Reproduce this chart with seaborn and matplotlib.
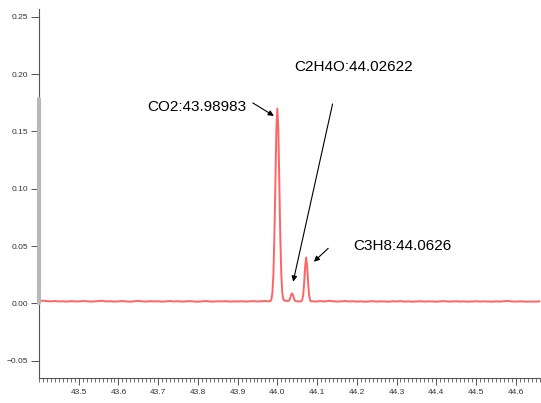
import numpy as np
import pandas as pd
import matplotlib
matplotlib.use("Agg")
import matplotlib.pyplot as plt
from matplotlib.ticker import MultipleLocator
import seaborn as sns

# ---- data ----
base_left_x = [round(43.40 + 0.01 * i, 2) for i in range(58)]
base_left_y = [0.0021, 0.0023, 0.0019, 0.0017, 0.0020, 0.0016, 0.0018, 0.0015, 0.0019, 0.0017,
               0.0016, 0.0020, 0.0018, 0.0015, 0.0017, 0.0019, 0.0022, 0.0016, 0.0018, 0.0015,
               0.0017, 0.0020, 0.0016, 0.0014, 0.0018, 0.0021, 0.0017, 0.0015, 0.0019, 0.0016,
               0.0018, 0.0014, 0.0017, 0.0020, 0.0016, 0.0018, 0.0015, 0.0017, 0.0019, 0.0016,
               0.0014, 0.0017, 0.0020, 0.0016, 0.0015, 0.0018, 0.0016, 0.0019, 0.0015, 0.0017,
               0.0016, 0.0018, 0.0015, 0.0017, 0.0019, 0.0016, 0.0018, 0.0020]

peak_x = [43.975, 43.980, 43.9825, 43.985, 43.9875, 43.990, 43.9925, 43.995, 43.9975, 44.000,
          44.0025, 44.005, 44.0075, 44.010, 44.0125, 44.015, 44.0175, 44.020, 44.025,
          44.0275, 44.030, 44.0325, 44.035, 44.0375, 44.040, 44.0425, 44.045, 44.050,
          44.055, 44.060, 44.0625, 44.065, 44.0675, 44.070, 44.0725, 44.075, 44.0775,
          44.080, 44.0825, 44.085, 44.090, 44.095]
peak_y = [0.0017, 0.0018, 0.0019, 0.0034, 0.0090, 0.0245, 0.0567, 0.1046, 0.1515, 0.1700,
          0.1515, 0.1046, 0.0567, 0.0245, 0.0090, 0.0036, 0.0024, 0.0022, 0.0022,
          0.0021, 0.0028, 0.0047, 0.0076, 0.0087, 0.0065, 0.0036, 0.0020, 0.0017,
          0.0016, 0.0017, 0.0027, 0.0070, 0.0177, 0.0325, 0.0400, 0.0325, 0.0177,
          0.0070, 0.0027, 0.0017, 0.0018, 0.0015]

base_right_x = [round(44.10 + 0.01 * i, 2) for i in range(57)]
base_right_y = [0.0017, 0.0019, 0.0016, 0.0022, 0.0018, 0.0015, 0.0017, 0.0020, 0.0016, 0.0018,
                0.0015, 0.0017, 0.0014, 0.0016, 0.0019, 0.0015, 0.0017, 0.0016, 0.0014, 0.0018,
                0.0016, 0.0019, 0.0015, 0.0017, 0.0014, 0.0016, 0.0018, 0.0015, 0.0017, 0.0016,
                0.0014, 0.0017, 0.0019, 0.0015, 0.0016, 0.0018, 0.0015, 0.0017, 0.0014, 0.0016,
                0.0018, 0.0015, 0.0017, 0.0016, 0.0014, 0.0017, 0.0015, 0.0018, 0.0021, 0.0016,
                0.0015, 0.0017, 0.0016, 0.0014, 0.0016, 0.0015, 0.0017]

labels = ["CO2:43.98983", "C2H4O:44.02622", "C3H8:44.0626"]
label_xy = [(43.9232, 0.1714), (44.0423, 0.2063), (44.190, 0.0500)]
label_ha = ["right", "left", "left"]
arrow_tail = [(43.9383, 0.1749), (44.1390, 0.1740), (44.1280, 0.0480)]
arrow_head = [(43.9912, 0.1636), (44.0398, 0.0189), (44.0919, 0.0363)]

yticks = [-0.05, 0.00, 0.05, 0.10, 0.15, 0.20, 0.25]
xticks = [43.5, 43.6, 43.7, 43.8, 43.9, 44.0, 44.1, 44.2, 44.3, 44.4, 44.5, 44.6]
XLIM = (43.40, 44.6637)
YLIM = (-0.0652, 0.2569)
CURSOR_TOP = 0.178

df = pd.DataFrame({"mz": base_left_x + peak_x + base_right_x,
                   "intensity": base_left_y + peak_y + base_right_y})

# ---- style ----
sns.set_style("ticks")
plt.rcParams["font.family"] = ["Liberation Sans", "DejaVu Sans"]

fig = plt.figure(figsize=(5.41, 4.03), dpi=100)
ax = fig.add_axes([39 / 541, 25 / 403, 1 - 39 / 541, (378 - 9) / 403])

sns.lineplot(data=df, x="mz", y="intensity", ax=ax, color="#ff6464", lw=1.4,
             estimator=None, sort=False)

ax.set_xlim(*XLIM)
ax.set_ylim(*YLIM)
ax.set_xticks(xticks)
ax.set_xticklabels([f"{v:.1f}" for v in xticks])
ax.xaxis.set_minor_locator(MultipleLocator(0.01))
ax.set_yticks(yticks)
ax.set_yticklabels([f"{v:.2f}".replace("-", "\u2212") for v in yticks])

for s in ["top", "right"]:
    ax.spines[s].set_visible(False)
for s in ["left", "bottom"]:
    ax.spines[s].set_color("#555555")
    ax.spines[s].set_linewidth(0.8)

ax.tick_params(axis="both", which="major", direction="out", colors="#555555",
               labelcolor="#333333", labelsize=6, width=0.7)
ax.tick_params(axis="y", which="major", length=6, pad=2)
ax.tick_params(axis="x", which="major", length=5, pad=3)
ax.tick_params(axis="x", which="minor", length=3, width=0.6, colors="#555555")

ax.set_xlabel("m/z", fontsize=8, labelpad=5, color="#333333")
ax.set_ylabel("")

# cursor bar on the left axis
frac = (CURSOR_TOP - YLIM[0]) / (YLIM[1] - YLIM[0])
frac0 = (0.0 - YLIM[0]) / (YLIM[1] - YLIM[0])
ax.axvline(XLIM[0], ymin=frac0, ymax=frac, color="#b8b8b8", lw=3, clip_on=False, zorder=5)

for txt, (tx, ty), ha in zip(labels, label_xy, label_ha):
    ax.text(tx, ty, txt, ha=ha, va="center", fontsize=11, color="black")
for (tx, ty), (hx, hy) in zip(arrow_tail, arrow_head):
    ax.annotate("", xy=(hx, hy), xytext=(tx, ty),
                arrowprops=dict(arrowstyle="-|>", color="black", lw=0.8,
                                mutation_scale=8, shrinkA=0, shrinkB=0))

fig.savefig("out.png", dpi=100)
